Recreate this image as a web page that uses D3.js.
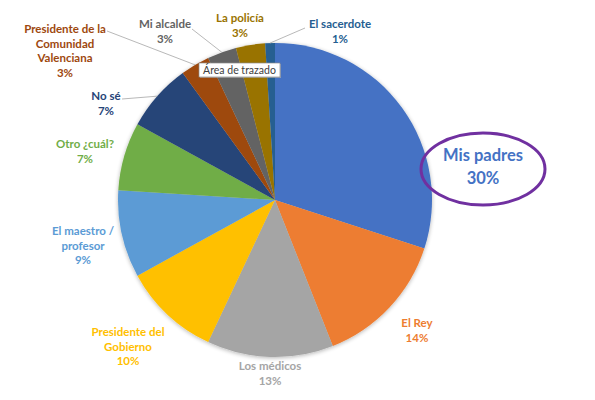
<!DOCTYPE html>
<html>
<head>
<meta charset="utf-8">
<script src="https://cdn.jsdelivr.net/npm/d3@7"></script>
<style>
  body { margin:0; background:#fff; }
  svg text { font-family: Lato, "Open Sans", sans-serif; font-weight:bold; }
</style>
</head>
<body>
<div id="chart"></div>
<script>
// categories (clockwise from 12 o'clock) and their shares
var categories = ["Mis padres","El Rey","Los médicos","Presidente del Gobierno","El maestro / profesor",
                  "Otro ¿cuál?","No sé","Presidente de la Comunidad Valenciana","Mi alcalde","La policía","El sacerdote"];
var values = [30,14,13,10,9,7,7,3,3,3,1];
var colors = ["#4472C4","#ED7D31","#A5A5A5","#FFC000","#5B9BD5","#70AD47","#264478","#9E480E","#636363","#997300","#255E91"];
// label lines as drawn in the chart
var labelLines = [["Mis padres"],["El Rey"],["Los médicos"],["Presidente del","Gobierno"],["El maestro /","profesor"],
                  ["Otro ¿cuál?"],["No sé"],["Presidente de la","Comunidad","Valenciana"],["Mi alcalde"],["La policía"],["El sacerdote"]];

var width = 595, height = 400,
    cx = 275, cy = 200, radius = 157;

var svg = d3.select("#chart").append("svg")
            .attr("width", width).attr("height", height);

var defs = svg.append("defs");
var f = defs.append("filter").attr("id","glow").attr("x","-10%").attr("y","-10%").attr("width","120%").attr("height","120%");
f.append("feGaussianBlur").attr("in","SourceAlpha").attr("stdDeviation",2).attr("result","b");
f.append("feOffset").attr("in","b").attr("dx",0).attr("dy",1).attr("result","o");
f.append("feComponentTransfer").attr("in","o").append("feFuncA").attr("type","linear").attr("slope",0.3);
var m = f.append("feMerge");
m.append("feMergeNode");
m.append("feMergeNode").attr("in","SourceGraphic");

var pie = d3.pie().sort(null).value(function(d){ return d; });
var arcs = pie(values);
var arc = d3.arc().innerRadius(0).outerRadius(radius);

var g = svg.append("g").attr("transform","translate("+cx+","+cy+")");

g.append("g").attr("filter","url(#glow)")
 .selectAll("path").data(arcs).enter().append("path")
 .attr("d", arc)
 .attr("fill", function(d,i){ return colors[i]; });

// label anchor positions (relative to pie centre) and leader info
var labelPos = [
  {x:208, y:-39, fs:16.5, lh:23},
  {x:142, y:127},
  {x:-5, y:170},
  {x:-147, y:136},
  {x:-192, y:35},
  {x:-190, y:-52},
  {x:-169, y:-100, leader:[-153,-101]},
  {x:-210, y:-167, leader:[-168,-169]},
  {x:-110, y:-172, leader:[-83,-171]},
  {x:-35, y:-178},
  {x:65, y:-172, leader:[30,-172]}
];

var pt = d3.arc().innerRadius(radius).outerRadius(radius);

// leader lines
arcs.forEach(function(d,i){
  var p = labelPos[i];
  if(!p.leader) return;
  var c = pt.centroid(d);
  g.append("path")
   .attr("d","M"+p.leader[0]+","+p.leader[1]+"L"+c[0]+","+c[1])
   .attr("fill","none").attr("stroke","#a6a6a6").attr("stroke-width",0.8);
});

// labels
arcs.forEach(function(d,i){
  var p = labelPos[i];
  var fs = p.fs || 11.5, lh = p.lh || 14.7;
  var lines = labelLines[i].concat([values[i]+"%"]);
  var t = g.append("text")
           .attr("text-anchor","middle")
           .attr("fill", colors[i])
           .style("font-size", fs+"px");
  lines.forEach(function(s,j){
    t.append("tspan").attr("x", p.x).attr("y", p.y + j*lh).text(s);
  });
});

// purple ellipse round the highlighted label
g.append("ellipse")
 .attr("cx",208).attr("cy",-31).attr("rx",62).attr("ry",36)
 .attr("fill","none").attr("stroke","#7030A0").attr("stroke-width",3);

// tooltip box
var tip = svg.append("g").attr("transform","translate(199,63)");
tip.append("rect").attr("x",1).attr("y",1).attr("width",81).attr("height",14).attr("fill","#bbb").attr("opacity",0.6);
tip.append("rect").attr("width",81).attr("height",14).attr("fill","#fff").attr("stroke","#8c8c8c").attr("stroke-width",0.7);
tip.append("text").attr("x",40.5).attr("y",11).attr("text-anchor","middle")
   .attr("fill","#404040").style("font-weight","normal").style("font-size","10.5px")
   .style("font-family","Lato, sans-serif").text("Área de trazado");
</script>
</body>
</html>
